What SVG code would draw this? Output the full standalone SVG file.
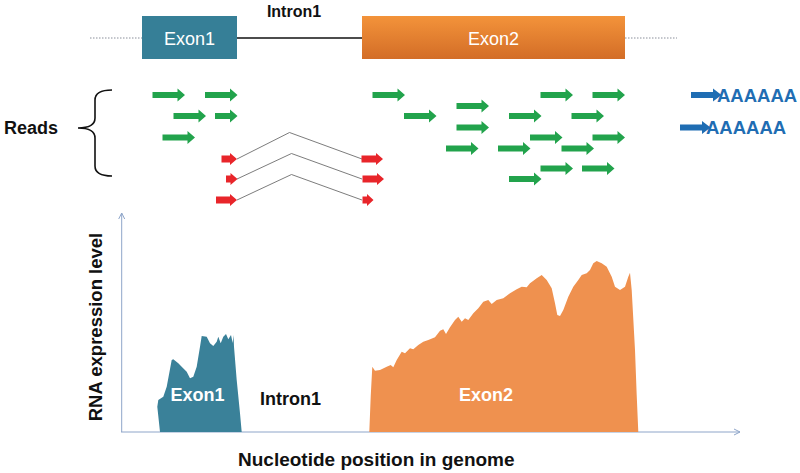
<svg xmlns="http://www.w3.org/2000/svg" xmlns:xlink="http://www.w3.org/1999/xlink" width="800" height="473" viewBox="0 0 800 473">
<style>
text{font-family:"Liberation Sans",Arial,sans-serif}
.lbl{font-weight:bold;fill:#111;font-size:18px}
.ex{fill:#fff;font-size:18px}
.exb{fill:#fff;font-size:18px;font-weight:bold}
.g{fill:#22a34c}
.r{fill:#e8252a}
.b{fill:#1f6db3}
.aaa{fill:#1f6db3;font-size:18.5px;font-weight:bold}
.dot{stroke:#8a8f9a;stroke-width:1;stroke-dasharray:1.5 1.5;fill:none}
.junc{stroke:#6d6d6d;stroke-width:0.9;fill:none}
.axis{stroke:#8ea5c9;stroke-width:1;fill:none}
</style>
<defs>
<linearGradient id="og" x1="0" y1="0" x2="0" y2="1">
<stop offset="0" stop-color="#f3933a"/>
<stop offset="1" stop-color="#d36d27"/>
</linearGradient>
<path id="ga" d="M0,-3 H25 V-6.5 L32.5,0 L25,6.5 V3 H0 Z"/>
<marker id="ah" viewBox="0 0 8 8" refX="7" refY="4" markerWidth="8" markerHeight="8" markerUnits="userSpaceOnUse" orient="auto">
<path d="M1,1 L7,4 L1,7" fill="none" stroke="#8ea5c9" stroke-width="1"/>
</marker>
</defs>
<rect width="800" height="473" fill="#fff"/>

<g id="gene">
<line class="dot" x1="90" y1="38" x2="142" y2="38"/>
<line class="dot" x1="625" y1="38" x2="677" y2="38"/>
<line x1="237" y1="38" x2="362" y2="38" stroke="#111" stroke-width="1.5"/>
<text class="lbl" x="294" y="17" style="font-size:16px" text-anchor="middle">Intron1</text>
</g>
<g id="exon1-box">
<rect x="142" y="16" width="95" height="43" fill="#367f97"/>
<text class="ex" x="189.5" y="44.5" text-anchor="middle">Exon1</text>
</g>
<g id="exon2-box">
<rect x="362" y="16" width="263" height="43" fill="url(#og)"/>
<text class="ex" x="493.5" y="44.5" text-anchor="middle">Exon2</text>
</g>

<g id="reads-label">
<text class="lbl" x="4" y="134">Reads</text>
<path d="M112,90 Q95,90 95,100 V118 Q95,128 78,128 Q95,128 95,138 V166 Q95,176 112,176" fill="none" stroke="#111" stroke-width="1.6"/>
</g>

<g id="green-reads" class="g">
<use xlink:href="#ga" x="152.5" y="95"/>
<use xlink:href="#ga" x="205" y="95"/>
<use xlink:href="#ga" x="173.5" y="116"/>
<use xlink:href="#ga" x="162.5" y="137.5"/>
<path d="M215,113 H230 V109.5 L237.5,116 L230,122.5 V119 H215 Z"/>
<use xlink:href="#ga" x="372.5" y="95"/>
<use xlink:href="#ga" x="404" y="116"/>
<use xlink:href="#ga" x="456.5" y="106"/>
<use xlink:href="#ga" x="456.5" y="127.5"/>
<use xlink:href="#ga" x="446" y="148.5"/>
<use xlink:href="#ga" x="540.5" y="95"/>
<use xlink:href="#ga" x="592.5" y="95"/>
<use xlink:href="#ga" x="509" y="116"/>
<use xlink:href="#ga" x="571.5" y="116"/>
<use xlink:href="#ga" x="530" y="137.5"/>
<use xlink:href="#ga" x="592.5" y="137.5"/>
<use xlink:href="#ga" x="498" y="148.5"/>
<use xlink:href="#ga" x="561.5" y="148.5"/>
<use xlink:href="#ga" x="540.5" y="168.5"/>
<use xlink:href="#ga" x="582" y="168.5"/>
<use xlink:href="#ga" x="509" y="179"/>
</g>

<g id="junction-lines">
<polyline class="junc" points="237,159 289.5,132.5 362,159"/>
<polyline class="junc" points="237,179 291.5,153.5 362,179"/>
<polyline class="junc" points="237,200 291.5,174.5 362,200"/>
</g>

<g id="red-reads" class="r">
<path d="M221.5,155.5 H230 V153 L237,159 L230,165 V162.5 H221.5 Z"/>
<path d="M226,175.5 H230.5 V173 L237.5,179 L230.5,185 V182.5 H226 Z"/>
<path d="M216,196.5 H230 V194 L237,200 L230,206 V203.5 H216 Z"/>
<path d="M361.5,155.5 H376 V153 L383,159 L376,165 V162.5 H361.5 Z"/>
<path d="M362.5,175.5 H377 V173 L384,179 L377,185 V182.5 H362.5 Z"/>
<path d="M362.5,196.5 H367 V194 L373.5,200 L367,206 V203.5 H362.5 Z"/>
</g>

<g id="polyA-reads">
<path class="b" d="M691,92 H713 V88.5 L721.5,95 L713,101.5 V98 H691 Z"/>
<text class="aaa" x="717" y="101.5">AAAAAA</text>
<path class="b" d="M680,124.5 H702 V121 L710.5,127.5 L702,134 V130.5 H680 Z"/>
<text class="aaa" x="706" y="134">AAAAAA</text>
</g>

<g id="axes">
<line class="axis" x1="121.7" y1="432" x2="121.7" y2="213" marker-end="url(#ah)"/>
<line class="axis" x1="121" y1="432" x2="740" y2="432" marker-end="url(#ah)"/>
<text class="lbl" transform="translate(102,327) rotate(-90)" text-anchor="middle" style="font-size:18.5px">RNA expression level</text>
<text class="lbl" x="238" y="466" style="font-size:19px">Nucleotide position in genome</text>
</g>

<g id="exon1-peak">
<path fill="#3a8199" d="M160,432 L157.3,406.7 L158.3,400 L163.3,396.7 L166.7,386.7 L171.7,360 L173.3,359.3 L178.3,363.3 L181.7,366.7 L186.7,371.7 L190,378.3 L193.3,376.7 L196.7,366.7 L200,346.7 L201.7,336 L206.7,336.7 L210,343.3 L213.3,346 L216.7,341.7 L218.3,336.7 L220.7,343.3 L223.3,336.7 L226,334 L228.3,339.3 L231,335 L232.7,343 L233.5,335 L234,346.7 L236.7,380 L240,413.3 L241.7,432 Z"/>
<text class="exb" x="197.5" y="400.5" text-anchor="middle">Exon1</text>
</g>
<text class="lbl" x="260" y="405">Intron1</text>

<g id="exon2-peak">
<path fill="#ef914f" d="M369.3,432 L370.7,396.7 L372.3,366.7 L375,370.7 L380,370 L386.7,366.7 L390.7,365 L393.3,367.3 L396.7,360 L401.7,351.7 L405,353.3 L410,348.3 L413.3,349.3 L418.3,345 L423.3,341.7 L428.3,340 L435,337.3 L440,330.7 L443.3,329.3 L446,334 L450,327.3 L455,320 L458.3,316.7 L461.7,321.7 L465,318.3 L468.3,320 L473.3,313.3 L478.3,308.3 L483.3,301.7 L488.3,300 L491.7,304 L496.7,300 L503.3,298.3 L510,293.3 L516.7,289.3 L521.7,286.7 L526.7,287.3 L530,283.3 L536.7,278.3 L541.7,275 L546.7,280 L551.7,288.3 L555,303.3 L557.3,315 L560,316 L563.3,310 L568.3,296.7 L573.3,286.7 L578.3,280 L581.7,275 L586.7,273.3 L590,270 L593.3,263.3 L596.7,261 L601.7,263.3 L606.7,266.7 L611.7,276.7 L615,286.7 L620,290 L625,286.7 L628.3,276.7 L630,272.7 L631.7,290 L635,350 L636.7,395 L638.3,432 Z"/>
<text class="exb" x="486" y="401" text-anchor="middle">Exon2</text>
</g>
</svg>
